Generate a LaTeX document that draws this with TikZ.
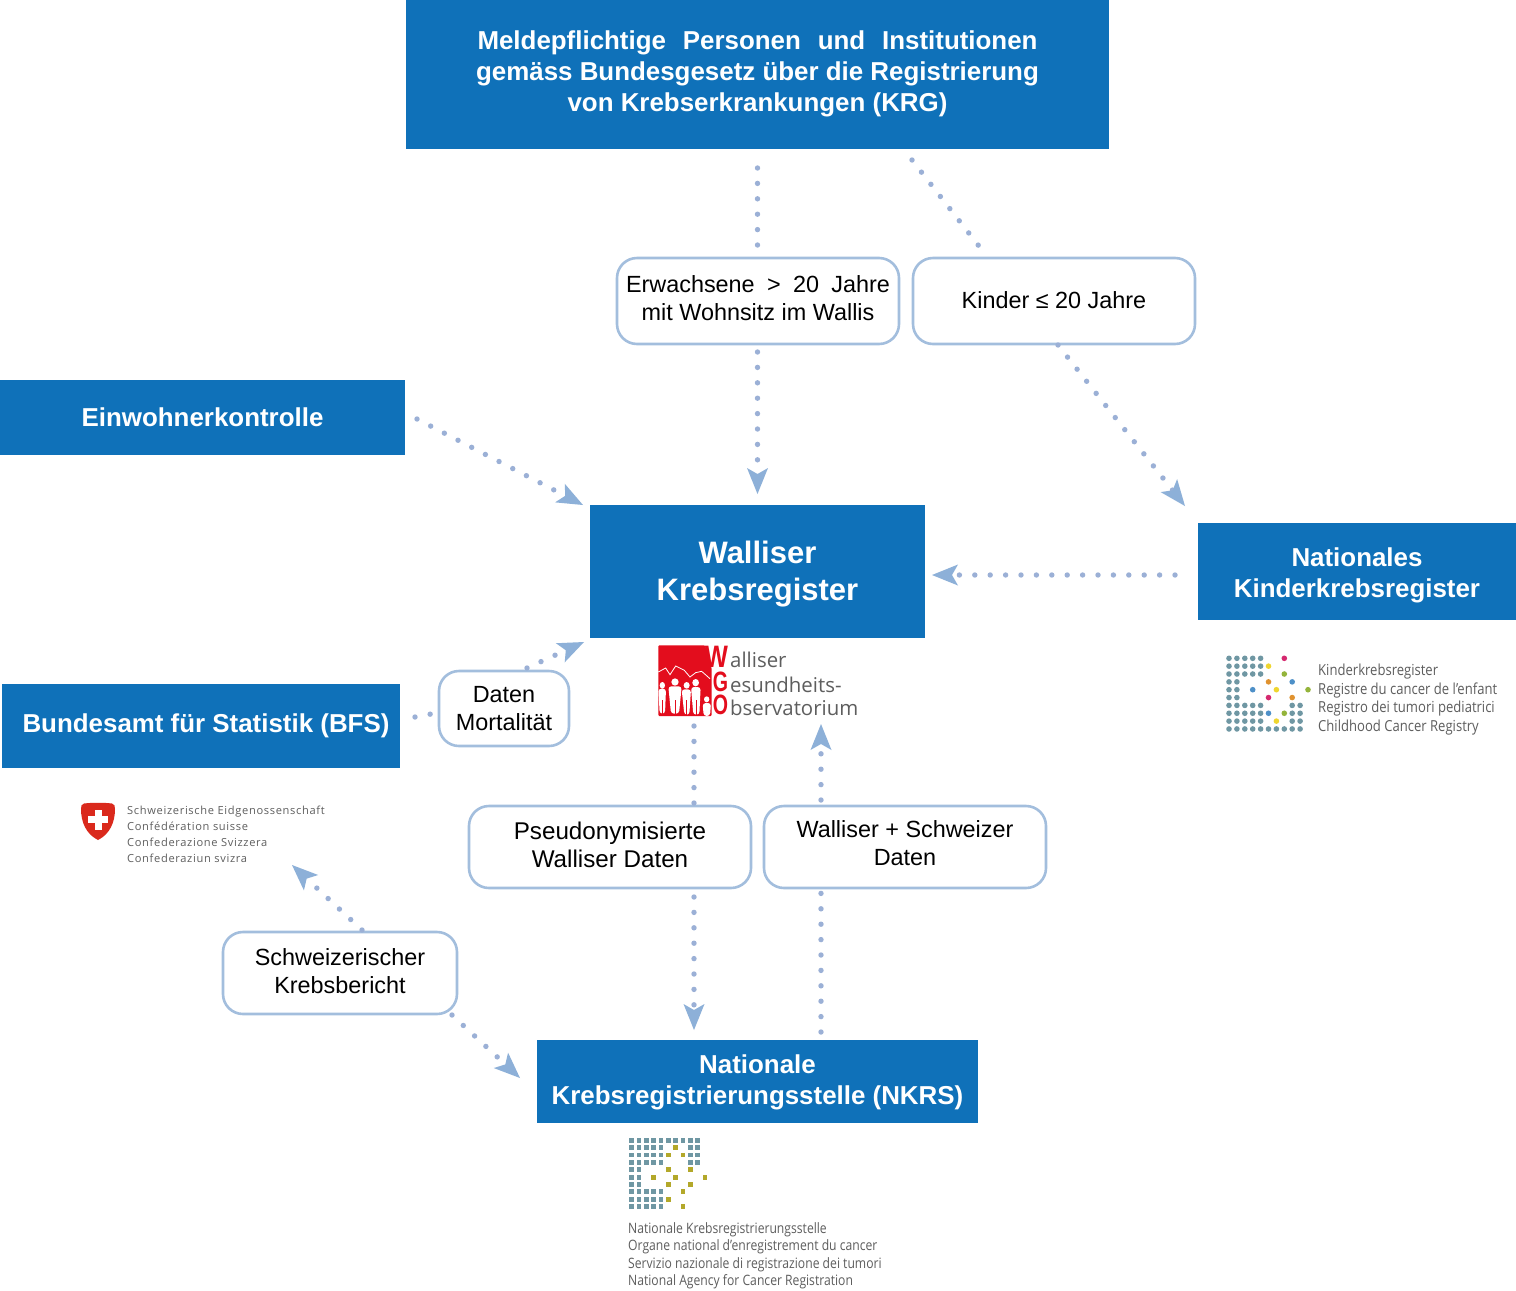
\documentclass[tikz,border=0pt]{standalone}
\usepackage{fontspec}
\setmainfont{Liberation Sans}
\usetikzlibrary{arrows.meta}
\newfontfamily\logofont[FakeStretch=0.86]{Open Sans}
\newfontfamily\natfont[FakeStretch=0.85]{Open Sans}
\newfontfamily\logowide[LetterSpace=6]{Open Sans}
\newfontfamily\wgofont{Open Sans}
\newfontfamily\wgobold[FakeStretch=0.79]{Liberation Sans}
\newfontfamily\wgoboldb[FakeStretch=0.70]{Liberation Sans}
\definecolor{boxblue}{HTML}{0F71B9}
\definecolor{edgeblue}{HTML}{A3BEDD}
\definecolor{dotblue}{HTML}{9BB0D6}
\definecolor{tipblue}{HTML}{8DB0D8}
\definecolor{logogray}{HTML}{5E5E5E}
\definecolor{teal1}{HTML}{6F97A3}
\definecolor{olive1}{HTML}{B3A82A}
\definecolor{mag1}{HTML}{D5296F}
\definecolor{yel1}{HTML}{EFD62F}
\definecolor{grn1}{HTML}{94B43B}
\definecolor{org1}{HTML}{E0922F}
\definecolor{blu1}{HTML}{4E90C8}
\definecolor{wgored}{HTML}{E30D1D}
\definecolor{swissred}{HTML}{DA291C}
\newcommand{\tb}[2]{\raisebox{#1}[0pt][0pt]{\begin{tabular}[c]{@{}c@{}}#2\end{tabular}}}
\tikzset{
  bluebox/.style={fill=boxblue,text=white,font=\bfseries\fontsize{25.9}{31}\selectfont,inner sep=0pt,draw=none},
  roundbox/.style={draw=edgeblue,line width=2.6pt,rounded corners=20pt,fill=white,text=black,font=\fontsize{23.4}{28}\selectfont,inner sep=0pt},
  dotline/.style={draw=dotblue,line width=5.4pt,line cap=round,dash pattern=on 0pt off 15.4pt},
  dotarrow/.style={dotline,-{Stealth[length=26pt,width=21pt,inset=6pt,color=tipblue,fill=tipblue,line width=0pt]}},
  logotext/.style={anchor=base west,inner sep=0pt,text=logogray,font=\logofont\fontsize{15.2}{18}\selectfont},
  nattext/.style={anchor=base west,inner sep=0pt,text=logogray,font=\natfont\fontsize{14.3}{18}\selectfont},
  swisstext/.style={anchor=base west,inner sep=0pt,text=logogray,font=\logowide\fontsize{11.1}{14}\selectfont},
  wgotext/.style={anchor=west,inner sep=0pt,text=logogray,font=\wgofont\fontsize{20.4}{24}\selectfont},
  wgoletter/.style={inner sep=0pt,text=wgored,font=\wgobold\bfseries\fontsize{31}{31}\selectfont},
  wgoletterb/.style={inner sep=0pt,text=wgored,font=\wgoboldb\bfseries\fontsize{28}{28}\selectfont}
}
\begin{document}
\begin{tikzpicture}[x=1pt,y=-1pt]
\useasboundingbox (0,0) rectangle (1516,1291);
\fill[white] (0,0) rectangle (1516,1291);

% main blue boxes
\node[bluebox,minimum width=703pt,minimum height=149pt] (krg) at (757.5,74.5) {\tb{-6.1pt}{\hbox to 560pt{Meldepflichtige\hfill Personen\hfill und\hfill Institutionen}\\gemäss Bundesgesetz über die Registrierung\\von Krebserkrankungen (KRG)}};
\node[bluebox,minimum width=405pt,minimum height=75pt] (ewk) at (202.5,417.5) {\tb{-9.1pt}{Einwohnerkontrolle}};
\node[bluebox,minimum width=335pt,minimum height=133pt,font=\bfseries\fontsize{31}{37}\selectfont] (wkr) at (757.5,571.5) {\tb{-9.2pt}{Walliser\\Krebsregister}};
\node[bluebox,minimum width=318pt,minimum height=97pt] (nkk) at (1357,571.5) {\tb{-10.6pt}{Nationales\\Kinderkrebsregister}};
\node[bluebox,minimum width=398pt,minimum height=84pt] (bfs) at (201,726) {\hspace*{10pt}\tb{-6.6pt}{Bundesamt für Statistik (BFS)}};
\node[bluebox,minimum width=441pt,minimum height=83pt] (nkrs) at (757.5,1081.5) {\tb{-7.6pt}{Nationale\\Krebsregistrierungsstelle (NKRS)}};

% rounded boxes
\node[roundbox,minimum width=282pt,minimum height=86pt] (adult) at (758,301) {\tb{-6.3pt}{\hbox to 264pt{Erwachsene\hfill >\hfill 20\hfill Jahre}\\mit Wohnsitz im Wallis}};
\node[roundbox,minimum width=282pt,minimum height=86pt] (kids) at (1054,301) {\tb{-8.3pt}{Kinder ≤ 20 Jahre}};
\node[roundbox,minimum width=130pt,minimum height=75pt] (mort) at (504,708.5) {\tb{-8.8pt}{Daten\\Mortalität}};
\node[roundbox,minimum width=282pt,minimum height=82pt,font=\fontsize{24.2}{28}\selectfont] (pseudo) at (610,847) {\tb{-7.3pt}{Pseudonymisierte\\Walliser Daten}};
\node[roundbox,minimum width=282pt,minimum height=82pt] (wsd) at (905,847) {\tb{-5.3pt}{Walliser + Schweizer\\Daten}};
\node[roundbox,minimum width=234pt,minimum height=82pt] (bericht) at (340,973) {\tb{-7.3pt}{Schweizerischer\\Krebsbericht}};

% free ends and attachment points of connectors
\coordinate (a1s) at (757.5,168); \coordinate (a1e) at (757.5,250);
\coordinate (a2s) at (912,160);   \coordinate (a2e) at (982,250);
\coordinate (a3s) at (757.5,352); \coordinate (a3e) at (757.5,494);
\coordinate (a4s) at (1058,345);  \coordinate (a4e) at (1185,506);
\coordinate (a5s) at (417,419);   \coordinate (a5e) at (583,505);
\coordinate (a6s) at (1175,575);  \coordinate (a6e) at (932,575);
\coordinate (a7s) at (415,717);   \coordinate (a7e) at (431,714);
\coordinate (a8s) at (527,668);   \coordinate (a8e) at (584,642);
\coordinate (a9s) at (694,726);   \coordinate (a9e) at (694,805);
\coordinate (a10s) at (694,897);  \coordinate (a10e) at (694,1030);
\coordinate (a11s) at (821,800);  \coordinate (a11e) at (821,724);
\coordinate (a12s) at (821,1032); \coordinate (a12e) at (821,888);
\coordinate (a13s) at (362,930);  \coordinate (a13e) at (292,865);
\coordinate (a14s) at (452,1015); \coordinate (a14e) at (520,1078);

\draw[dotline] (a1s) -- (a1e);
\draw[dotline] (a2s) -- (a2e);
\draw[dotarrow] (a3s) -- (a3e);
\draw[dotarrow] (a4s) -- (a4e);
\draw[dotarrow] (a5s) -- (a5e);
\draw[dotarrow] (a6s) -- (a6e);
\draw[dotline] (a7s) -- (a7e);
\draw[dotarrow] (a8s) -- (a8e);
\draw[dotline] (a9s) -- (a9e);
\draw[dotarrow] (a10s) -- (a10e);
\draw[dotarrow] (a11s) -- (a11e);
\draw[dotline] (a12s) -- (a12e);
\draw[dotarrow] (a13s) -- (a13e);
\draw[dotarrow] (a14s) -- (a14e);

% WGO logo
\node[wgoletter] (wgoW) at (716.5,656.5) {W};
\node[wgoletterb] (wgoG) at (720.5,682) {G};
\node[wgoletterb] (wgoO) at (720.5,704.5) {O};
\begin{scope}[shift={(655,642)},x=0.3333pt,y=-0.3333pt]
  \fill[wgored,rounded corners=1pt] (10,10) -- (150,10) -- (170,80) -- (170,222) -- (10,222) -- cycle;
  \draw[white,line width=0.8pt] (10,90) -- (32,78) -- (45,98) -- (62,72) -- (88,85) -- (105,105) -- (122,92) -- (140,88) -- (165,110);
  \fill[white] (22,130) ellipse (8 and 10);
  \fill[white] (60,120) ellipse (11 and 11);
  \fill[white] (95,130) ellipse (9 and 10);
  \fill[white] (122,122) ellipse (10 and 11);
  \fill[white] (155,172) ellipse (8 and 9);
  \fill[white,rounded corners=3pt] (10,140) -- (33,140) -- (30,215) -- (14,215) -- cycle;
  \fill[white,rounded corners=3pt] (40,133) -- (80,133) -- (72,215) -- (48,215) -- cycle;
  \fill[white,rounded corners=3pt] (80,142) -- (108,142) -- (103,218) -- (88,218) -- cycle;
  \fill[white,rounded corners=3pt] (108,135) -- (137,135) -- (133,218) -- (115,218) -- cycle;
  \fill[white,rounded corners=3pt] (143,183) -- (168,183) -- (165,222) -- (146,222) -- cycle;
  \foreach \lx in {22,60,95,124}
    \fill[wgored] (\lx-1.5,175) rectangle (\lx+1.5,222);
\end{scope}
\node[wgotext] (wgo1) at (730,660) {alliser};
\node[wgotext] (wgo2) at (730,685) {esundheits-};
\node[wgotext] (wgo3) at (730,708) {bservatorium};

% children's registry logo
\begin{scope}[shift={(1229,658.3)},x=7.9pt,y=-7.85pt]
  \foreach \c/\r in {0/0,1/0,2/0,3/0,4/0,0/1,1/1,2/1,3/1,4/1,0/2,1/2,2/2,3/2,4/2,0/3,1/3,0/4,1/4,0/5,1/5,
    0/6,1/6,2/6,3/6,4/6,8/6,9/6,0/7,1/7,2/7,3/7,4/7,8/7,9/7,0/8,1/8,2/8,3/8,4/8,8/8,9/8,
    0/9,1/9,2/9,3/9,4/9,5/9,6/9,7/9,8/9,9/9}
    \fill[teal1] (\c,\r) circle[radius=2.8pt];
  \foreach \c/\r/\k in {7/0/mag1,5/1/yel1,7/2/grn1,5/3/org1,8/3/blu1,3/4/blu1,6/4/yel1,10/4/grn1,5/5/mag1,8/5/org1,5/7/blu1,7/7/grn1,6/8/yel1}
    \fill[\k] (\c,\r) circle[radius=2.8pt];
\end{scope}
\node[logotext] (kl1) at (1318,675.5) {Kinderkrebsregister};
\node[logotext] (kl2) at (1318,694.5) {Registre du cancer de l’enfant};
\node[logotext] (kl3) at (1318,712.5) {Registro dei tumori pediatrici};
\node[logotext] (kl4) at (1318,731.5) {Childhood Cancer Registry};

% national registry logo
\begin{scope}[shift={(631.7,1140.3)},x=7.33pt,y=-7.37pt]
  \foreach \c/\r in {0/0,1/0,2/0,3/0,4/0,5/0,6/0,7/0,8/0,9/0,0/1,1/1,2/1,3/1,4/1,8/1,9/1,0/2,1/2,2/2,3/2,4/2,8/2,9/2,0/3,1/3,2/3,3/3,4/3,8/3,9/3,
    0/4,1/4,0/5,1/5,0/6,1/6,0/7,1/7,2/7,3/7,4/7,0/8,1/8,2/8,3/8,4/8,0/9,1/9,2/9,3/9,4/9}
    \fill[teal1] (\c-0.33,\r-0.33) rectangle (\c+0.33,\r+0.33);
  \foreach \c/\r in {6/1,5/2,7/2,5/4,8/4,3/5,6/5,10/5,5/6,8/6,7/7,5/8,7/9}
    \fill[olive1] (\c-0.33,\r-0.33) rectangle (\c+0.33,\r+0.33);
\end{scope}
\node[nattext] (nl1) at (628,1233.5) {Nationale Krebsregistrierungsstelle};
\node[nattext] (nl2) at (628,1250.5) {Organe national d’enregistrement du cancer};
\node[nattext] (nl3) at (628,1268.5) {Servizio nazionale di registrazione dei tumori};
\node[nattext] (nl4) at (628,1285.5) {National Agency for Cancer Registration};

% Swiss logo
\fill[swissred] (84,803.5) .. controls (92,802.5) and (104,802.5) .. (112,803.5) .. controls (114.5,804) and (115,806) .. (115,809) .. controls (115,822) and (110,834) .. (98,840) .. controls (86,834) and (81,822) .. (81,809) .. controls (81,806) and (81.5,804) .. (84,803.5) -- cycle;
\fill[white] (94.5,809.5) rectangle (101.5,829.5);
\fill[white] (88,816) rectangle (108,823);
\node[swisstext] (sl1) at (127,814) {Schweizerische Eidgenossenschaft};
\node[swisstext] (sl2) at (127,830) {Confédération suisse};
\node[swisstext] (sl3) at (127,846) {Confederazione Svizzera};
\node[swisstext] (sl4) at (127,862) {Confederaziun svizra};
\end{tikzpicture}
\end{document}
